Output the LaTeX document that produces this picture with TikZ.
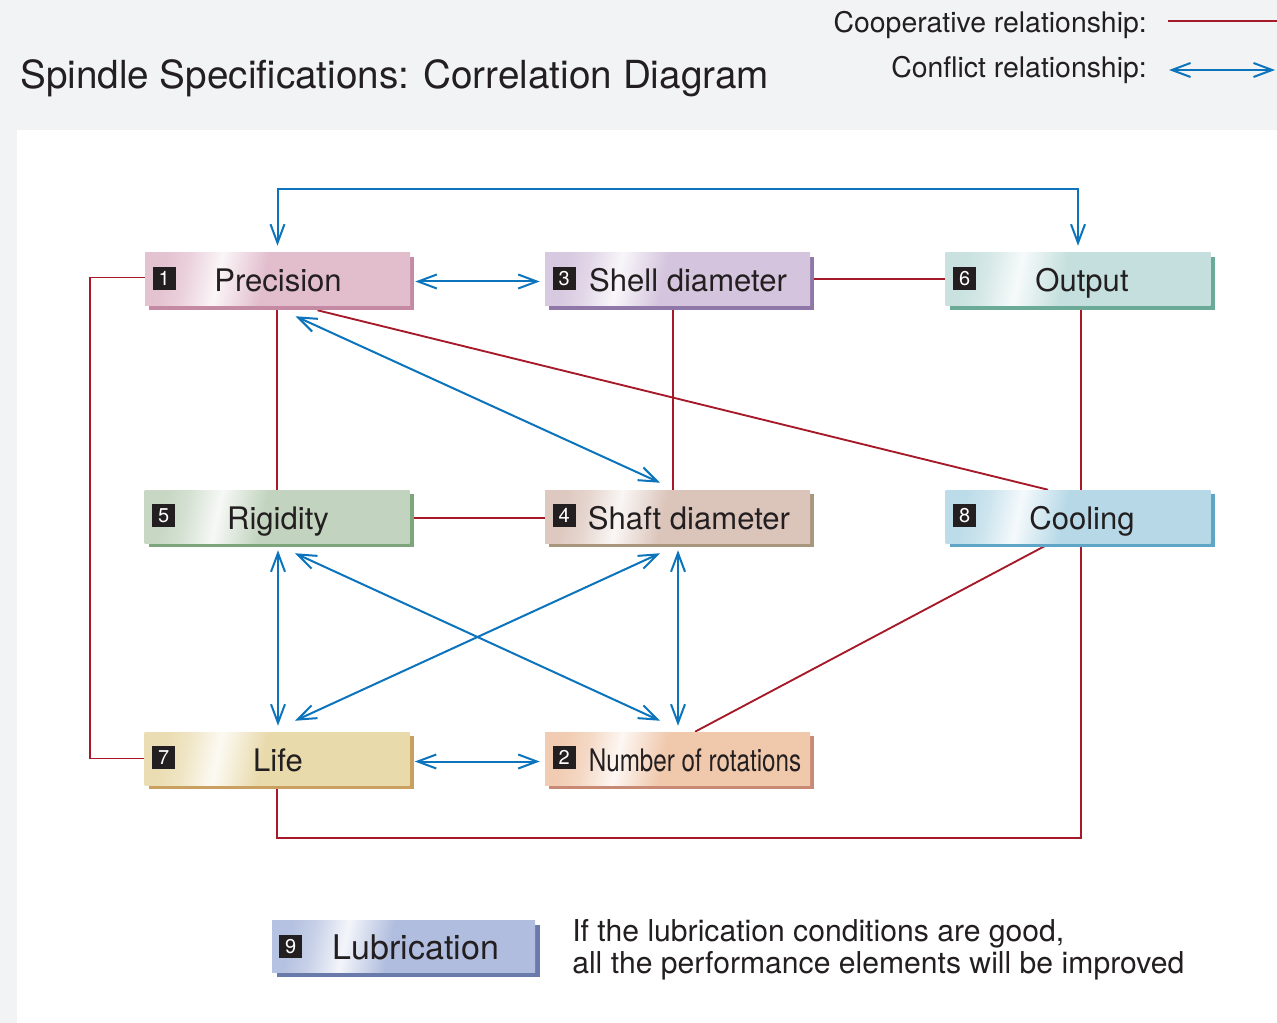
\documentclass[tikz,border=0pt]{standalone}
\usepackage{fontspec}
\usepackage{graphicx}
\setmainfont{TeX Gyre Heros}
\usetikzlibrary{arrows.meta,calc}
\definecolor{bgray}{RGB}{242,243,245}
\definecolor{cblue}{RGB}{11,116,188}
\definecolor{cred}{RGB}{166,25,40}
\definecolor{txt}{RGB}{35,31,32}
\definecolor{f1}{RGB}{226,190,205}\definecolor{s1}{RGB}{196,138,163}
\definecolor{f3}{RGB}{212,196,221}\definecolor{s3}{RGB}{143,120,168}
\definecolor{f6}{RGB}{196,223,221}\definecolor{s6}{RGB}{106,170,150}
\definecolor{f5}{RGB}{194,212,191}\definecolor{s5}{RGB}{126,166,124}
\definecolor{f4}{RGB}{219,196,186}\definecolor{s4}{RGB}{168,150,125}
\definecolor{f8}{RGB}{183,217,231}\definecolor{s8}{RGB}{95,166,198}
\definecolor{f7}{RGB}{233,218,172}\definecolor{s7}{RGB}{201,160,96}
\definecolor{f2}{RGB}{240,200,172}\definecolor{s2}{RGB}{200,138,116}
\definecolor{f9}{RGB}{176,189,222}\definecolor{s9}{RGB}{106,122,171}
\colorlet{boxc}{f1}
\pgfdeclarehorizontalshading[boxc]{boxshade}{100bp}{color(0bp)=(boxc!92!white); color(25bp)=(boxc!92!white); color(30bp)=(boxc!70!white); color(37bp)=(boxc!15!white); color(47bp)=(boxc); color(75bp)=(boxc); color(100bp)=(boxc)}
\pgfdeclarelayer{back}\pgfdeclarelayer{bg}\pgfsetlayers{back,bg,main}
\tikzset{
  facebox/.style={rectangle, inner sep=0pt, minimum width=198.75pt, minimum height=39.75pt, shading=boxshade, shading angle=-12},
  badge/.style={rectangle, fill=txt, inner sep=0pt, minimum size=17pt, text=white, font=\fontsize{15}{15}\selectfont},
  lbl/.style={anchor=base, text=txt, inner sep=0pt, font=\fontsize{23.3}{28}\selectfont},
  conf/.style={draw=cblue, line width=1.5pt, {Straight Barb[length=14pt,width=10.5pt]}-{Straight Barb[length=14pt,width=10.5pt]}},
  coop/.style={draw=cred, line width=1.4pt},
  plain/.style={text=txt, inner sep=0pt}
}
% #1 name, #2 x, #3 y, #4 face, #5 shadow, #6 number, #7 label, #8 label dx
\newcommand\specbox[8]{%
  \fill[#5] ($(#2,#3)+(-128.5,-22.5)$) rectangle ($(#2,#3)+(136.5,30.5)$);
  \colorlet{boxc}{#4}%
  \node[facebox] (#1) at (#2,#3) {};
  \node[badge] (#1n) at ($(#1.west)+(19.5,-1)$) {#6};
  \node[lbl] (#1t) at ($(#1.center)+(#8,12.5)$) {#7};
}
\begin{document}
\begin{tikzpicture}[x=0.75pt,y=-0.75pt]
\useasboundingbox (0,0) rectangle (1277,1023);
\begin{pgfonlayer}{back}
  \fill[bgray] (0,0) rectangle (1277,1023);
  \fill[white] (17,130) rectangle (1277,1023);
\end{pgfonlayer}

% title and legend
\node[plain, anchor=base west, font=\fontsize{29}{34}\selectfont] (title) at (20,89) {Spindle Specifications: Correlation Diagram};
\node[plain, anchor=base east, font=\fontsize{21.3}{26}\selectfont] (lg1) at (1147,33) {Cooperative relationship:};
\node[plain, anchor=base east, font=\fontsize{21.3}{26}\selectfont] (lg2) at (1147,78) {Conflict relationship:};
\coordinate (lr1) at (1168,21); \coordinate (lr2) at (1277,21);
\coordinate (lb1) at (1169,70); \coordinate (lb2) at (1275,70);
\draw[coop] (lr1) -- (lr2);
\draw[conf] (lb1) -- (lb2);

% boxes
\specbox{p1}{277.5}{279.5}{f1}{s1}{1}{Precision}{0.5}
\specbox{p3}{677.5}{279.5}{f3}{s3}{3}{Shell diameter}{10.5}
\specbox{p6}{1078}{279.5}{f6}{s6}{6}{Output}{4}
\specbox{p5}{277}{516.5}{f5}{s5}{5}{Rigidity}{1}
\specbox{p4}{677.5}{516.5}{f4}{s4}{4}{Shaft diameter}{11.5}
\specbox{p8}{1078}{516.5}{f8}{s8}{8}{Cooling}{4}
\specbox{p7}{277}{758.5}{f7}{s7}{7}{Life}{1}
\specbox{p2}{677.5}{758.5}{f2}{s2}{2}{\scalebox{0.78}[1]{Number of rotations}}{17.5}

% lubrication
\fill[s9] (277,925) rectangle (540,977);
\colorlet{boxc}{f9}
\node[facebox, minimum width=197.25pt, minimum height=39pt] (p9) at (403.5,946) {};
\node[badge] (p9n) at ($(p9.west)+(19,0.5)$) {9};
\node[lbl, font=\fontsize{25.5}{30}\selectfont] (p9t) at ($(p9.center)+(12.5,13)$) {Lubrication};
\node[plain, anchor=base west, align=left, font=\fontsize{22.6}{24}\selectfont] (note1) at (572,941) {If the lubrication conditions are good,};
\node[plain, anchor=base west, align=left, font=\fontsize{22.6}{24}\selectfont] (note2) at (572,973) {all the performance elements will be improved};

% connectors
\begin{pgfonlayer}{bg}
  % conflicts
  \draw[conf] ($(p1.north)+(0,-7)$) -- ++(0,-57) -| ($(p6.north)+(0,-7)$);
  \draw[conf] ($(p1.east)+(5,2)$) -- ($(p3.west)+(-5,2)$);
  \draw[conf] ($(p1.south)+(18,10)$) -- ($(p4.north)+(-17.5,-7)$);
  \draw[conf] ($(p5.south)+(1,7)$) -- ($(p7.north)+(1,-6)$);
  \draw[conf] ($(p5.south)+(18,10)$) -- ($(p2.north)+(-17.5,-11)$);
  \draw[conf] ($(p4.south)+(-17.5,10)$) -- ($(p7.north)+(18,-11)$);
  \draw[conf] ($(p4.south)+(0.5,7)$) -- ($(p2.north)+(0.5,-6)$);
  \draw[conf] ($(p7.east)+(5,3)$) -- ($(p2.west)+(-5,3)$);
  % cooperations
  \draw[coop] ($(p1.west)+(0,-2)$) -- ++(-55,0) |- (p7.west);
  \draw[coop] ($(p1.south)+(-0.5,0)$) -- (p5.north);
  \draw[coop] ($(p1.south)+(40,4)$) -- ($(p8.north)+(-30,0)$);
  \draw[coop] ($(p3.east)+(0,-0.5)$) -- ($(p6.west)+(0,-0.5)$);
  \draw[coop] ($(p3.south)+(-4.5,0)$) -- ($(p4.north)+(-4.5,0)$);
  \draw[coop] ($(p6.south)+(3,0)$) -- ($(p8.north)+(3,0)$);
  \draw[coop] ($(p5.east)+(0,1.5)$) -- ($(p4.west)+(0,1.5)$);
  \draw[coop] ($(p8.south)+(-28,0)$) -- ($(p2.north)+(17.5,0)$);
  \draw[coop] (p7.south) -- ++(0,53) -| ($(p8.south)+(3,0)$);
\end{pgfonlayer}
\end{tikzpicture}
\end{document}
